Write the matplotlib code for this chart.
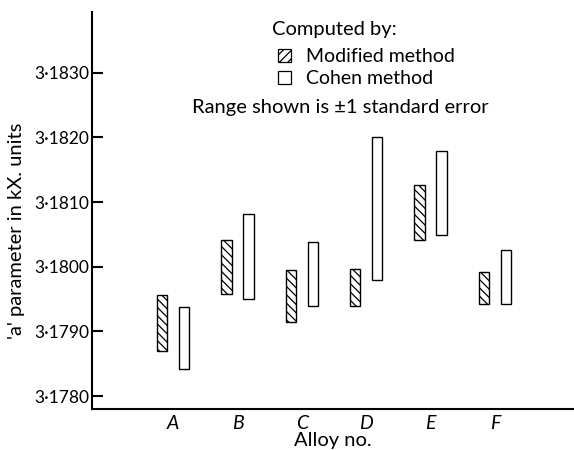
import matplotlib
matplotlib.use("Agg")
import matplotlib.pyplot as plt
import numpy as np
from matplotlib.patches import Patch
from matplotlib.ticker import FuncFormatter

ALLOYS = ["A", "B", "C", "D", "E", "F"]
# ranges (+/- 1 standard error), kX units
MOD_LOW = [3.17870, 3.17958, 3.17914, 3.17940, 3.18042, 3.17943]
MOD_HIGH = [3.17956, 3.18042, 3.17995, 3.17996, 3.18126, 3.17992]
COHEN_LOW = [3.17842, 3.17950, 3.17939, 3.17979, 3.18049, 3.17943]
COHEN_HIGH = [3.17938, 3.18081, 3.18038, 3.18200, 3.18179, 3.18026]
YTICKS = [3.1780, 3.1790, 3.1800, 3.1810, 3.1820, 3.1830]

plt.rcParams["font.family"] = ["Lato", "DejaVu Sans"]
plt.rcParams["hatch.linewidth"] = 0.9

fig = plt.figure(figsize=(5.74, 4.5), dpi=100)
ax = fig.add_axes([92 / 574, 41 / 450, 482 / 574, 397 / 450])

x = np.arange(1, len(ALLOYS) + 1)
mod_low = np.array(MOD_LOW)
cohen_low = np.array(COHEN_LOW)
ax.bar(x - 0.17, np.array(MOD_HIGH) - mod_low, bottom=mod_low, width=0.16,
       facecolor="white", edgecolor="black", linewidth=1.0, hatch="\\\\\\\\")
ax.bar(x + 0.17, np.array(COHEN_HIGH) - cohen_low, bottom=cohen_low, width=0.16,
       facecolor="white", edgecolor="black", linewidth=1.0)

ax.set_xlim(-0.26, 7.23)
ax.set_ylim(3.17780, 3.18394)
ax.set_xticks(x)
ax.set_xticklabels(ALLOYS, fontstyle="italic")
ax.set_yticks(YTICKS)
ax.yaxis.set_major_formatter(FuncFormatter(lambda v, _: f"{v:.4f}".replace(".", "\u00b7")))

for side in ["top", "right"]:
    ax.spines[side].set_visible(False)
for side in ["left", "bottom"]:
    ax.spines[side].set_linewidth(1.5)
ax.tick_params(axis="y", direction="in", length=8, width=1.5, pad=2, labelsize=12.5)
ax.tick_params(axis="x", length=0, pad=4, labelsize=14)

ax.set_ylabel("'a' parameter in kX. units", fontsize=14.5)
ax.yaxis.set_label_coords(-0.14, 0.45)
ax.set_xlabel("Alloy no.", fontsize=14.5, labelpad=0)

# key: title, two swatches, then the note on the ranges
ax.text((272 - 92) / 482, (409 - 29) / 397, "Computed by:", transform=ax.transAxes,
        ha="left", va="center", fontsize=14.5)
handles = [
    Patch(facecolor="white", edgecolor="black", hatch="////", linewidth=0.9, label="Modified method"),
    Patch(facecolor="white", edgecolor="black", linewidth=0.9, label="Cohen method"),
]
ax.legend(handles=handles, frameon=False, fontsize=14, handlelength=0.65, handleheight=0.65,
          handletextpad=0.8, labelspacing=0.25, borderpad=0, borderaxespad=0,
          loc="upper left", bbox_to_anchor=((278 - 92) / 482, (409 - 48) / 397))
ax.text((340 - 92) / 482, (409 - 107) / 397, "Range shown is \u00b11 standard error",
        transform=ax.transAxes, ha="center", va="center", fontsize=14.5)

fig.savefig("out.png", dpi=100)
